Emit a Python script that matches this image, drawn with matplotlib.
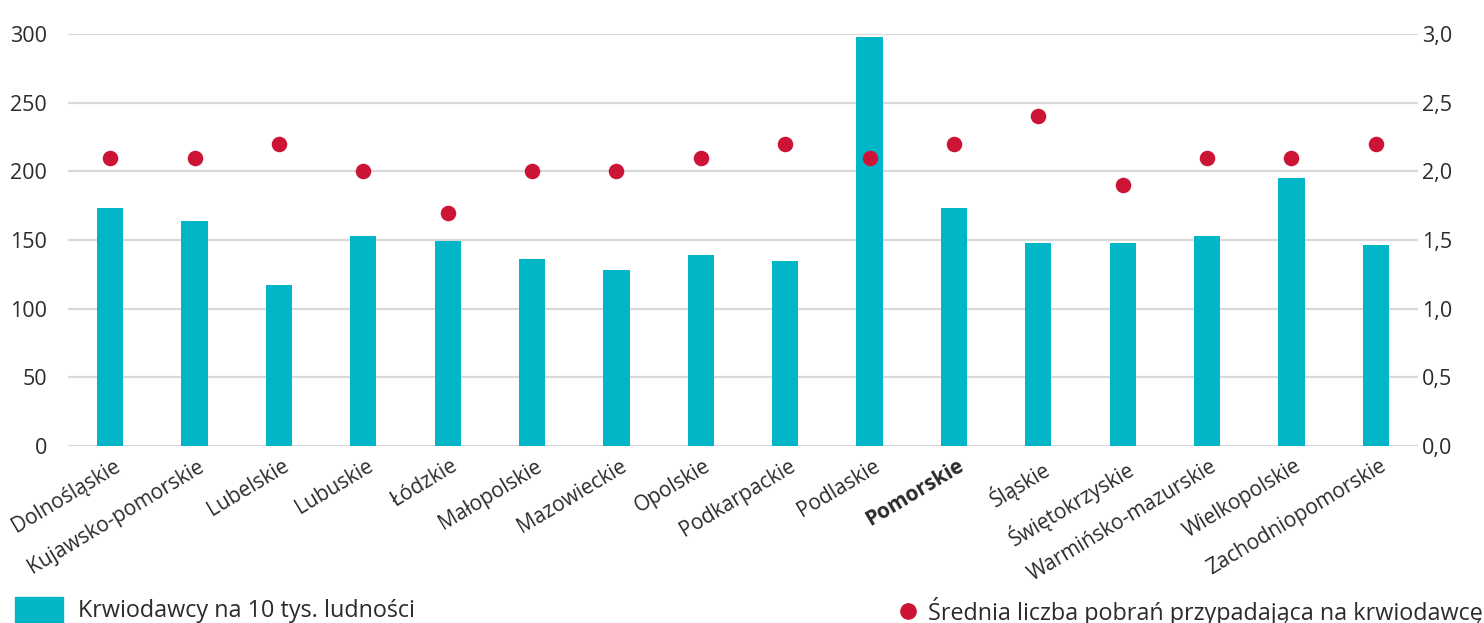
import matplotlib
matplotlib.use("Agg")
import matplotlib.pyplot as plt
import matplotlib.transforms as mtransforms
from matplotlib.patches import Rectangle
from matplotlib.lines import Line2D

categories = ["Dolnośląskie", "Kujawsko-pomorskie", "Lubelskie", "Lubuskie", "Łódzkie",
              "Małopolskie", "Mazowieckie", "Opolskie", "Podkarpackie", "Podlaskie",
              "Pomorskie", "Śląskie", "Świętokrzyskie", "Warmińsko-mazurskie",
              "Wielkopolskie", "Zachodniopomorskie"]
donors = [173, 164, 117, 153, 149, 136, 128, 139, 135, 298, 173, 148, 148, 153, 195, 146]
avg_donations = [2.1, 2.1, 2.2, 2.0, 1.7, 2.0, 2.0, 2.1, 2.2, 2.1, 2.2, 2.4, 1.9, 2.1, 2.1, 2.2]
left_ticks = [0, 50, 100, 150, 200, 250, 300]
right_ticks = [0.0, 0.5, 1.0, 1.5, 2.0, 2.5, 3.0]
legend_bar = "Krwiodawcy na 10 tys. ludności"
legend_dot = "Średnia liczba pobrań przypadająca na krwiodawcę"
highlight = "Pomorskie"

FONT = ["Open Sans", "DejaVu Sans"]
plt.rcParams['font.family'] = FONT
BAR = "#00b6c7"
DOT = "#cc1436"
TXT = "#2b2b2b"
GRID = "#d9d9d9"

fig = plt.figure(figsize=(14.84, 6.23), dpi=100)
ax = fig.add_axes([68/1484, 1-446/623, 1350/1484, 412/623])
x = list(range(len(categories)))
ax.bar(x, donors, width=0.31, color=BAR, zorder=2)
ax.set_xlim(-0.5, len(categories)-0.5)
ax.set_ylim(0, 300)
ax.set_yticks(left_ticks)
ax.set_yticklabels([str(t) for t in left_ticks], fontsize=15.5, color=TXT)
ax.yaxis.grid(True, color=GRID, linewidth=1.6, zorder=0)
ax.set_axisbelow(True)
for s in ax.spines.values():
    s.set_visible(False)
ax.tick_params(axis='y', length=0, pad=15)
ax.tick_params(axis='x', length=0, pad=7)
ax.set_xticks(x)
ax.set_xticklabels(categories, rotation=31, ha='right', rotation_mode='anchor',
                   fontsize=15, color=TXT)
shift = mtransforms.ScaledTranslation(3/100, 0, fig.dpi_scale_trans)
for lab in ax.get_xticklabels():
    lab.set_transform(lab.get_transform() + shift)
    if lab.get_text() == highlight:
        lab.set_fontweight('bold')

ax2 = ax.twinx()
ax2.scatter(x, avg_donations, s=125, color=DOT, zorder=3, linewidths=0)
ax2.set_ylim(0, 3.0)
ax2.set_yticks(right_ticks)
ax2.set_yticklabels([f"{t:.1f}".replace('.', ',') for t in right_ticks], fontsize=15.5, color=TXT)
for s in ax2.spines.values():
    s.set_visible(False)
ax2.tick_params(axis='y', length=0, pad=3)

# legend
fig.add_artist(Rectangle((15/1484, 0), 48/1484, 26/623, transform=fig.transFigure,
                         color=BAR, clip_on=False))
fig.text(78/1484, 1-611/623, legend_bar, fontsize=16.8, color=TXT, va='center', ha='left')
fig.add_artist(Line2D([908/1484], [1-611/623], marker='o', markersize=11, color=DOT,
                      linestyle='none', transform=fig.transFigure))
fig.text(928/1484, 1-611/623, legend_dot, fontsize=16.8, color=TXT, va='center', ha='left')

fig.savefig("out.png", dpi=100, facecolor='white')
